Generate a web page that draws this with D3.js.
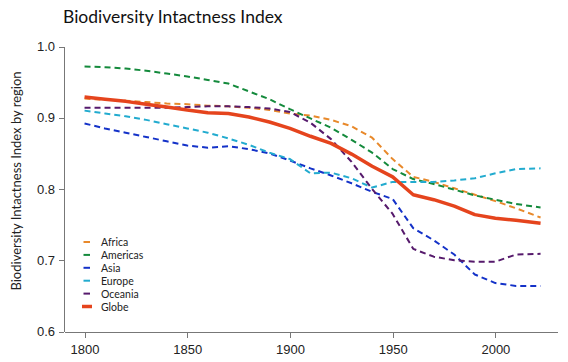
<!DOCTYPE html>
<html lang="en">
<head>
<meta charset="utf-8">
<title>Biodiversity Intactness Index</title>
<script src="https://cdn.jsdelivr.net/npm/d3@7"></script>
<style>
  body { margin: 0; background: #fff; }
  svg { font-family: Lato, "Open Sans", sans-serif; }
  .axis path, .axis line { stroke: #777; shape-rendering: crispEdges; }
  .axis text { font-size: 13px; fill: #222; }
</style>
</head>
<body>
<script>
// years sampled (per decade)
var years = [1800, 1810, 1820, 1830, 1840, 1850, 1860, 1870, 1880, 1890, 1900, 1910,
             1920, 1930, 1940, 1950, 1960, 1970, 1980, 1990, 2000, 2010, 2022];

var africa   = [0.927,0.925,0.924,0.922,0.920,0.919,0.917,0.916,0.914,0.911,0.906,0.903,
                0.897,0.888,0.872,0.842,0.817,0.810,0.801,0.792,0.783,0.773,0.760];
var americas = [0.972,0.971,0.969,0.966,0.962,0.958,0.953,0.948,0.937,0.926,0.912,0.899,
                0.886,0.869,0.851,0.828,0.814,0.807,0.799,0.791,0.785,0.779,0.774];
var asia     = [0.892,0.885,0.879,0.873,0.867,0.861,0.858,0.860,0.856,0.850,0.840,0.829,
                0.819,0.808,0.796,0.786,0.745,0.728,0.708,0.680,0.668,0.664,0.664];
var europe   = [0.910,0.906,0.902,0.897,0.891,0.885,0.879,0.871,0.862,0.851,0.842,0.822,
                0.823,0.815,0.802,0.810,0.810,0.810,0.812,0.815,0.822,0.828,0.829];
var oceania  = [0.914,0.914,0.914,0.914,0.914,0.915,0.916,0.916,0.915,0.913,0.908,0.893,
                0.870,0.838,0.800,0.765,0.716,0.705,0.700,0.698,0.698,0.708,0.709];
var globe    = [0.929,0.926,0.923,0.919,0.915,0.911,0.907,0.906,0.901,0.894,0.885,0.874,
                0.864,0.849,0.832,0.817,0.792,0.785,0.776,0.764,0.759,0.756,0.752];

var seriesNames = ["Africa", "Americas", "Asia", "Europe", "Oceania", "Globe"];
var seriesValues = [africa, americas, asia, europe, oceania, globe];
var xTicks = [1800, 1850, 1900, 1950, 2000];
var yTicks = [0.6, 0.7, 0.8, 0.9, 1.0];

var colors = {
  Africa: "#e8892b",
  Americas: "#148a3c",
  Asia: "#1432c8",
  Europe: "#22abcf",
  Oceania: "#561a6c",
  Globe: "#e5441d"
};

var w = 568, h = 362;
var padLeft = 64, padRight = 557, padTop = 46.5, padBottom = 331.5;

var svg = d3.select("body").append("svg")
  .attr("width", w)
  .attr("height", h);

var x = d3.scaleLinear().domain([1790, 2030]).range([padLeft, padRight]);
var y = d3.scaleLinear().domain([0.6, 1.0]).range([padBottom, padTop]);

// title
svg.append("text")
  .attr("x", 63)
  .attr("y", 23)
  .style("font-size", "17.5px")
  .style("fill", "#111")
  .text("Biodiversity Intactness Index");

// axes
svg.append("g")
  .attr("class", "axis")
  .attr("transform", "translate(0," + padBottom + ")")
  .call(d3.axisBottom(x).tickValues(xTicks).tickFormat(d3.format("d"))
    .tickSize(6).tickSizeOuter(0).tickPadding(7));

svg.append("g")
  .attr("class", "axis")
  .attr("transform", "translate(" + padLeft + ",0)")
  .call(d3.axisLeft(y).tickValues(yTicks).tickFormat(d3.format(".1f"))
    .tickSize(5).tickSizeOuter(0).tickPadding(4));

// y label
svg.append("text")
  .attr("transform", "translate(21," + 181 + ") rotate(-90)")
  .attr("text-anchor", "middle")
  .style("font-size", "13px")
  .style("fill", "#222")
  .text("Biodiversity Intactness Index by region");

var line = d3.line()
  .x(function(d) { return x(d[0]); })
  .y(function(d) { return y(d[1]); });

var plot = svg.append("g");

seriesNames.forEach(function(name, i) {
  var pts = years.map(function(yr, j) { return [yr, seriesValues[i][j]]; });
  var isGlobe = name === "Globe";
  plot.append("path")
    .attr("d", line(pts))
    .attr("fill", "none")
    .attr("stroke", colors[name])
    .attr("stroke-width", isGlobe ? 3.5 : 2)
    .attr("stroke-dasharray", isGlobe ? null : "6,4")
    .attr("stroke-linejoin", "round");
});

// legend
var leg = svg.append("g").attr("transform", "translate(82,242)");
seriesNames.forEach(function(name, i) {
  var g = leg.append("g").attr("transform", "translate(0," + (i * 12.9) + ")");
  var isGlobe = name === "Globe";
  g.append("line")
    .attr("x1", isGlobe ? 0 : 1.5).attr("x2", isGlobe ? 10 : 8)
    .attr("y1", 0).attr("y2", 0)
    .attr("stroke", colors[name])
    .attr("stroke-width", isGlobe ? 3.5 : 2);
  g.append("text")
    .attr("x", 19)
    .attr("y", 4)
    .style("font-size", "10.5px")
    .style("fill", "#222")
    .text(name);
});
</script>
</body>
</html>
